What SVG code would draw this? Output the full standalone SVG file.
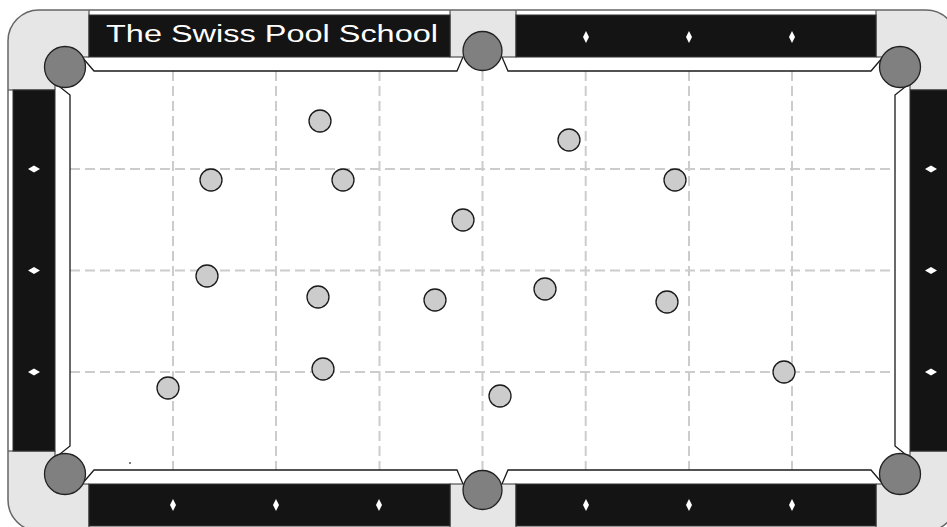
<svg xmlns="http://www.w3.org/2000/svg" width="947" height="527" viewBox="0 0 947 527">
<defs>
<style>
.grey{fill:#e6e6e6;stroke:#333;stroke-width:1}
.rail{fill:#141414;stroke:#333;stroke-width:1}
.pocket{fill:#808080;stroke:#222;stroke-width:1.3}
.cush{fill:none;stroke:#1a1a1a;stroke-width:1.3;stroke-linejoin:miter}
.grid{stroke:#cccccc;stroke-width:2;stroke-dasharray:10 5;fill:none}
.ball{fill:#cccccc;stroke:#1a1a1a;stroke-width:1.3}
.dia{fill:#ffffff}
.title{font-family:"Liberation Sans",Arial,sans-serif;font-size:23px;fill:#ffffff}
</style>
<clipPath id="tableClip"><rect x="8" y="10" width="949" height="521" rx="31" ry="31"/></clipPath>
</defs>
<g id="frame">
<rect x="8" y="10" width="949" height="521" rx="31" ry="31" fill="#ffffff"/>
<g clip-path="url(#tableClip)">
<path class="grey" d="M7,9 H89 V57 H55 V90 H7 Z"/>
<path class="grey" d="M958,9 H876 V57 H910 V90 H958 Z"/>
<path class="grey" d="M7,532 H89 V484 H55 V451 H7 Z"/>
<path class="grey" d="M958,532 H876 V484 H910 V451 H958 Z"/>
<rect class="grey" x="450" y="9" width="66" height="48"/>
<rect class="grey" x="450" y="484" width="66" height="48"/>
</g>
</g>
<g id="rails">
<rect class="rail" x="89" y="15" width="361" height="42"/>
<rect class="rail" x="516" y="15" width="360" height="42"/>
<rect class="rail" x="89" y="484" width="361" height="42"/>
<rect class="rail" x="516" y="484" width="360" height="42"/>
<rect class="rail" x="13" y="90" width="42" height="361"/>
<rect class="rail" x="910" y="90" width="42" height="361"/>
</g>
<g id="title">
<text class="title" x="106" y="42" textLength="332" lengthAdjust="spacingAndGlyphs">The Swiss Pool School</text>
</g>
<g id="diamonds">
<polygon class="dia" points="586,31 589,37 586,43 583,37"/>
<polygon class="dia" points="689,31 692,37 689,43 686,37"/>
<polygon class="dia" points="792,31 795,37 792,43 789,37"/>
<polygon class="dia" points="173,499 176,505 173,511 170,505"/>
<polygon class="dia" points="276,499 279,505 276,511 273,505"/>
<polygon class="dia" points="379,499 382,505 379,511 376,505"/>
<polygon class="dia" points="586,499 589,505 586,511 583,505"/>
<polygon class="dia" points="689,499 692,505 689,511 686,505"/>
<polygon class="dia" points="792,499 795,505 792,511 789,505"/>
<polygon class="dia" points="28,169 34,165.5 40,169 34,172.5"/>
<polygon class="dia" points="28,270.5 34,267 40,270.5 34,274"/>
<polygon class="dia" points="28,372 34,368.5 40,372 34,375.5"/>
<polygon class="dia" points="925,169 931,165.5 937,169 931,172.5"/>
<polygon class="dia" points="925,270.5 931,267 937,270.5 931,274"/>
<polygon class="dia" points="925,372 931,368.5 937,372 931,375.5"/>
</g>
<g id="grid">
<line class="grid" x1="173" y1="71" x2="173" y2="470"/>
<line class="grid" x1="276" y1="71" x2="276" y2="470"/>
<line class="grid" x1="379.5" y1="71" x2="379.5" y2="470"/>
<line class="grid" x1="482.5" y1="71" x2="482.5" y2="470"/>
<line class="grid" x1="585.7" y1="71" x2="585.7" y2="470"/>
<line class="grid" x1="689" y1="71" x2="689" y2="470"/>
<line class="grid" x1="792" y1="71" x2="792" y2="470"/>
<line class="grid" x1="70" y1="169" x2="895" y2="169"/>
<line class="grid" x1="70" y1="270.5" x2="895" y2="270.5"/>
<line class="grid" x1="70" y1="372" x2="895" y2="372"/>
</g>
<g id="cushions">
<polyline class="cush" points="82,57 94,71 457,71 463,57"/>
<polyline class="cush" points="502,57 508,71 871,71 883,57"/>
<polyline class="cush" points="910,83 895,95 895,446 910,458"/>
<polyline class="cush" points="883,484 871,470 508,470 502,484"/>
<polyline class="cush" points="463,484 457,470 94,470 82,484"/>
<polyline class="cush" points="55,458 70,446 70,95 55,83"/>
</g>
<g id="pockets">
<circle class="pocket" cx="65" cy="67" r="20.5"/>
<circle class="pocket" cx="482.5" cy="51" r="19.5"/>
<circle class="pocket" cx="900" cy="67" r="20.5"/>
<circle class="pocket" cx="65" cy="474" r="20.5"/>
<circle class="pocket" cx="482.5" cy="490" r="19.5"/>
<circle class="pocket" cx="900" cy="474" r="20.5"/>
</g>
<g id="border">
<rect x="8" y="10" width="949" height="521" rx="31" ry="31" fill="none" stroke="#666" stroke-width="1.5"/>
</g>
<g id="balls">
<g id="ball1"><circle class="ball" cx="320" cy="121" r="11"/></g>
<g id="ball2"><circle class="ball" cx="211" cy="180" r="11"/></g>
<g id="ball3"><circle class="ball" cx="343" cy="180" r="11"/></g>
<g id="ball4"><circle class="ball" cx="569" cy="140" r="11"/></g>
<g id="ball5"><circle class="ball" cx="675" cy="180" r="11"/></g>
<g id="ball6"><circle class="ball" cx="463" cy="220" r="11"/></g>
<g id="ball7"><circle class="ball" cx="207" cy="276" r="11"/></g>
<g id="ball8"><circle class="ball" cx="318" cy="297" r="11"/></g>
<g id="ball9"><circle class="ball" cx="435" cy="300" r="11"/></g>
<g id="ball10"><circle class="ball" cx="545" cy="289" r="11"/></g>
<g id="ball11"><circle class="ball" cx="667" cy="302" r="11"/></g>
<g id="ball12"><circle class="ball" cx="323" cy="369" r="11"/></g>
<g id="ball13"><circle class="ball" cx="168" cy="388" r="11"/></g>
<g id="ball14"><circle class="ball" cx="500" cy="396" r="11"/></g>
<g id="ball15"><circle class="ball" cx="784" cy="372" r="11"/></g>
</g>
<circle cx="130" cy="463" r="1" fill="#555"/>
</svg>
